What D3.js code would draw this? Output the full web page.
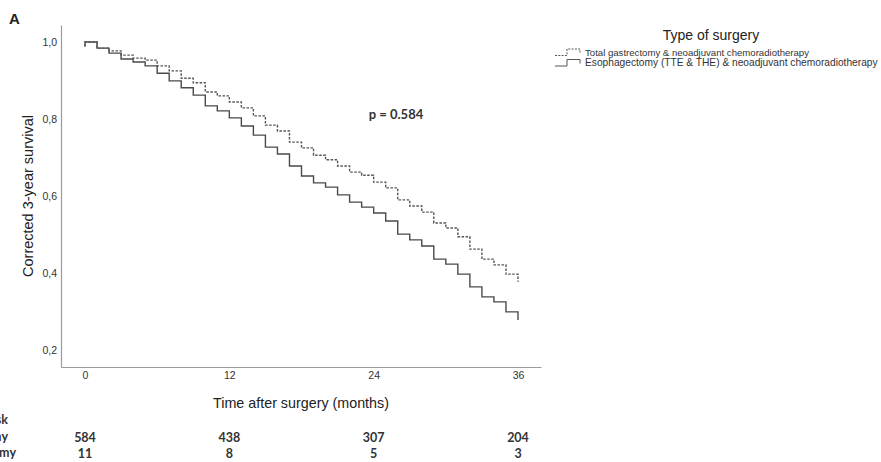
<!DOCTYPE html>
<html>
<head>
<meta charset="utf-8">
<script src="https://cdn.jsdelivr.net/npm/d3@7"></script>
<style>
  body { margin: 0; background: #fff; }
  svg { display: block; }
</style>
</head>
<body>
<script>
// months 0..36, with an extra leading 0 for the little start tick
const months = [0, 0, 1, 2, 3, 4, 5, 6, 7, 8, 9, 10, 11, 12, 13, 14, 15, 16, 17, 18,
  19, 20, 21, 22, 23, 24, 25, 26, 27, 28, 29, 30, 31, 32, 33, 34, 35, 36];

const gastrectomy = [0.988, 1.0, 0.984, 0.977, 0.966, 0.958, 0.953, 0.938, 0.925, 0.906,
  0.894, 0.870, 0.860, 0.844, 0.829, 0.808, 0.784, 0.769, 0.740, 0.725, 0.706, 0.694,
  0.678, 0.662, 0.654, 0.636, 0.621, 0.590, 0.574, 0.558, 0.530, 0.517, 0.494, 0.462,
  0.436, 0.421, 0.397, 0.377];

const esophagectomy = [0.988, 1.0, 0.984, 0.971, 0.956, 0.948, 0.938, 0.919, 0.899, 0.881,
  0.862, 0.834, 0.821, 0.803, 0.782, 0.758, 0.727, 0.709, 0.678, 0.652, 0.634, 0.623,
  0.603, 0.584, 0.571, 0.556, 0.535, 0.501, 0.486, 0.470, 0.436, 0.423, 0.397, 0.364,
  0.338, 0.325, 0.299, 0.278];

const xTicks = [0, 12, 24, 36];
const yTicks = [0.2, 0.4, 0.6, 0.8, 1.0];

const riskLabels = ["Total gastrectomy", "Esophagectomy"];
const riskGastrectomy = [584, 438, 307, 204];
const riskEsophagectomy = [11, 8, 5, 3];

const legendLabels = [
  "Total gastrectomy & neoadjuvant chemoradiotherapy",
  "Esophagectomy (TTE & THE) & neoadjuvant chemoradiotherapy"
];

const width = 881, height = 462;
const sans = "'Liberation Sans', Arial, sans-serif";
const boldFont = "Lato, 'Open Sans', sans-serif";

const svg = d3.select("body").append("svg")
  .attr("width", width)
  .attr("height", height);

const xScale = d3.scaleLinear().domain([0, 36]).range([85, 518]);
const yScale = d3.scaleLinear().domain([0.2, 1.0]).range([350, 42]);

// axis frames run a bit past the data range
const axisLeftX = 61, axisBottomY = 367;
const xFrame = d3.scaleLinear()
  .domain([xScale.invert(axisLeftX), xScale.invert(541)])
  .range([axisLeftX, 541]);
const yFrame = d3.scaleLinear()
  .domain([yScale.invert(axisBottomY), yScale.invert(25)])
  .range([axisBottomY, 25]);

const commaFormat = d3.formatLocale({decimal: ",", thousands: ".", grouping: [3], currency: ["", ""]}).format(".1f");

const yAxis = d3.axisLeft(yFrame)
  .tickValues(yTicks)
  .tickFormat(commaFormat)
  .tickSize(0)
  .tickPadding(4);

const xAxis = d3.axisBottom(xFrame)
  .tickValues(xTicks)
  .tickFormat(d3.format("d"))
  .tickSize(0)
  .tickPadding(5);

const yG = svg.append("g")
  .attr("transform", `translate(${axisLeftX},0)`)
  .call(yAxis);

const xG = svg.append("g")
  .attr("transform", `translate(0,${axisBottomY})`)
  .call(xAxis);

[yG, xG].forEach(g => {
  g.select(".domain").attr("stroke", "#9a9a9a").attr("stroke-width", 1.2);
  g.selectAll("text")
    .attr("fill", "#333")
    .style("font-family", sans)
    .style("font-size", "10.5px");
});

// curves
const stepLine = d3.line()
  .x((d, i) => xScale(months[i]))
  .y(d => yScale(d))
  .curve(d3.curveStepAfter);

svg.append("path")
  .datum(esophagectomy)
  .attr("fill", "none")
  .attr("stroke", "#4a4a4a")
  .attr("stroke-width", 1.4)
  .attr("d", stepLine);

svg.append("path")
  .datum(gastrectomy)
  .attr("fill", "none")
  .attr("stroke", "#555")
  .attr("stroke-width", 1.4)
  .attr("stroke-dasharray", "2.5,1.5")
  .attr("d", stepLine);

// titles
svg.append("text")
  .attr("x", 9).attr("y", 24)
  .attr("fill", "#222")
  .style("font-family", sans)
  .style("font-weight", "bold")
  .style("font-size", "15px")
  .text("A");

svg.append("text")
  .attr("transform", `translate(33,${(axisBottomY + 25) / 2}) rotate(-90)`)
  .attr("text-anchor", "middle")
  .attr("fill", "#222")
  .style("font-family", sans)
  .style("font-size", "14.5px")
  .text("Corrected 3-year survival");

svg.append("text")
  .attr("x", (axisLeftX + 541) / 2).attr("y", 408)
  .attr("text-anchor", "middle")
  .attr("fill", "#222")
  .style("font-family", sans)
  .style("font-size", "14.3px")
  .text("Time after surgery (months)");

svg.append("text")
  .attr("x", 396).attr("y", 119)
  .attr("text-anchor", "middle")
  .attr("fill", "#333")
  .style("font-family", boldFont)
  .style("font-weight", "bold")
  .style("font-size", "13px")
  .text("p = 0.584");

// legend
const legend = svg.append("g");
legend.append("text")
  .attr("x", 711).attr("y", 40)
  .attr("text-anchor", "middle")
  .attr("fill", "#222")
  .style("font-family", sans)
  .style("font-size", "14px")
  .text("Type of surgery");

const legendRows = legend.selectAll(".row")
  .data(legendLabels)
  .join("g")
  .attr("class", "row")
  .attr("transform", (d, i) => `translate(555,${52 + i * 10.5})`);

legendRows.append("path")
  .attr("fill", "none")
  .attr("stroke", "#555")
  .attr("stroke-width", 1)
  .attr("stroke-dasharray", (d, i) => i === 0 ? "2,1.3" : null)
  .attr("d", () => {
    const p = d3.path();
    p.moveTo(0, 3.5); p.lineTo(12, 3.5); p.lineTo(12, -3);
    p.lineTo(25, -3); p.lineTo(25, 1);
    return p.toString();
  });

legendRows.append("text")
  .attr("x", 30).attr("y", 3.5)
  .attr("fill", "#333")
  .style("font-family", sans)
  .style("font-size", (d, i) => i === 0 ? "9.6px" : "10.2px")
  .text(d => d);

// number at risk table (row labels run off the left edge, as in the source)
const table = svg.append("g").style("font-family", boldFont).style("font-weight", "bold")
  .style("font-size", "12.5px").attr("fill", "#333");

table.append("text")
  .attr("x", 8).attr("y", 424)
  .attr("text-anchor", "end")
  .text("Number at risk");

table.selectAll(".rl")
  .data(riskLabels)
  .join("text")
  .attr("class", "rl")
  .attr("x", (d, i) => i === 0 ? 8 : 16)
  .attr("y", (d, i) => 441 + i * 16)
  .attr("text-anchor", "end")
  .text(d => d);

[riskGastrectomy, riskEsophagectomy].forEach((row, r) => {
  table.selectAll(".r" + r)
    .data(row)
    .join("text")
    .attr("class", "r" + r)
    .attr("x", (d, i) => xScale(xTicks[i]))
    .attr("y", 442 + r * 16)
    .attr("text-anchor", "middle")
    .text(d => d);
});
</script>
</body>
</html>
